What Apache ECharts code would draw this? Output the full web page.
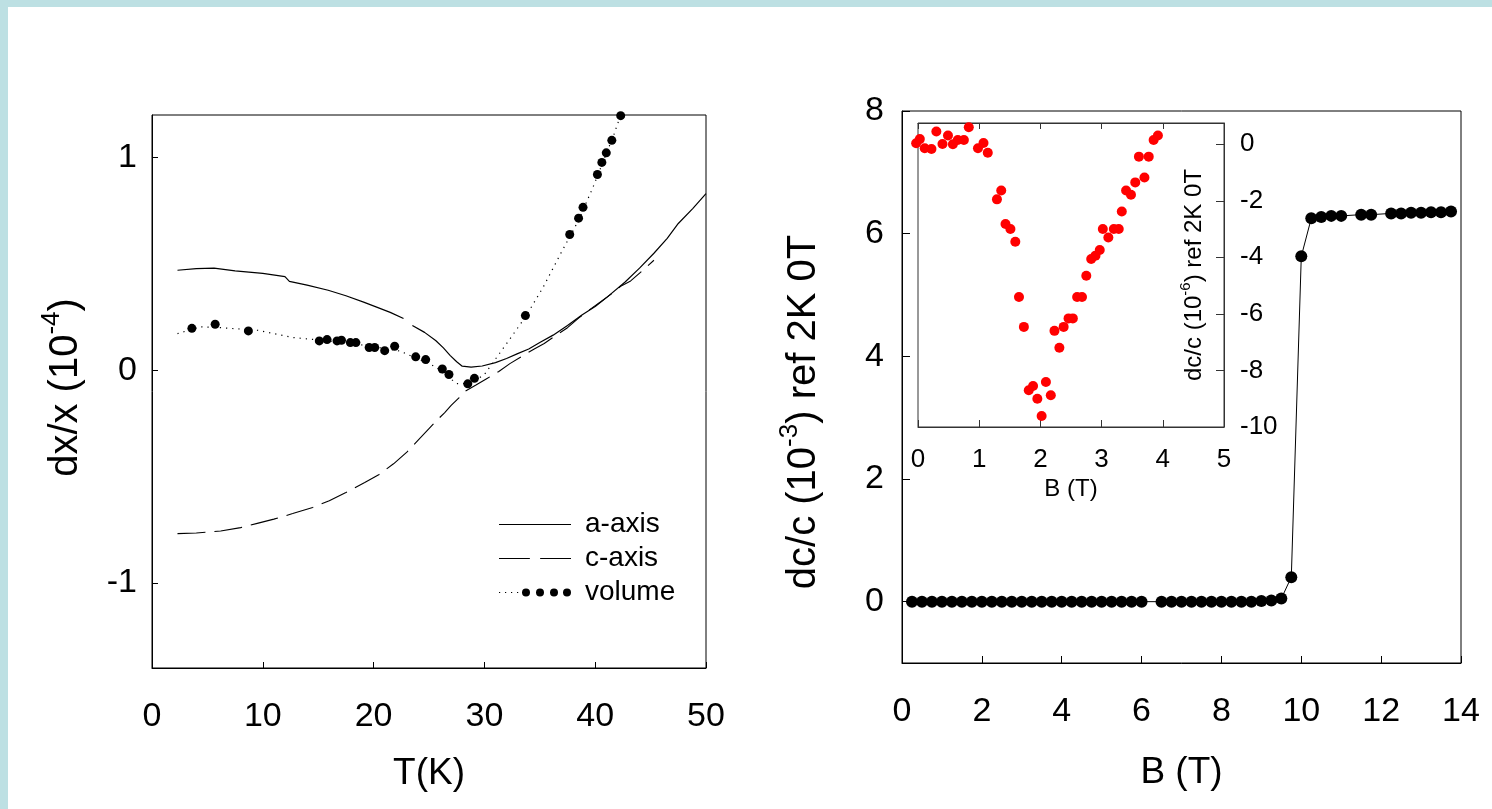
<!DOCTYPE html>
<html><head><meta charset="utf-8">
<script src="https://cdn.jsdelivr.net/npm/echarts@6/dist/echarts.min.js"></script>
<style>
html,body{margin:0;padding:0;background:#fff;}
#stripTop{position:absolute;left:0;top:0;width:1492px;height:7px;background:#bde0e3;}
#stripLeft{position:absolute;left:0;top:0;width:8px;height:809px;background:#bde0e3;}
#chart{position:absolute;left:0;top:0;width:1492px;height:809px;}
</style></head>
<body>
<div id="stripTop"></div><div id="stripLeft"></div>
<div id="chart"></div>
<script>
// ---------- Left panel: thermal expansion dx/x (1e-4) vs T(K) ----------
const aAxisT = [2.3, 4, 5.6, 7.5, 10, 12, 12.4, 14, 15.9, 17.5, 19.1, 20.1, 21.5, 22.7, 23.1, 23.5, 24.6, 25.6, 26.3, 26.9, 27.5, 28, 28.8, 29.8, 31, 32, 33, 34, 35, 36.2, 37.5, 38.8, 40, 41.1, 42.7, 44, 45.3, 46.5, 47.5, 48.8, 50];
const aAxisV = [0.47, 0.478, 0.48, 0.467, 0.455, 0.44, 0.418, 0.40, 0.376, 0.35, 0.32, 0.30, 0.272, 0.243, null, 0.21, 0.178, 0.14, 0.105, 0.07, 0.04, 0.019, 0.015, 0.02, 0.036, 0.055, 0.078, 0.10, 0.13, 0.165, 0.21, 0.26, 0.30, 0.345, 0.415, 0.48, 0.55, 0.62, 0.69, 0.76, 0.83];

const cAxisT = [2.3, 4, 6.2, 8, 9.5, 11, 12.7, 14.5, 16, 17.5, 19.2, 20.5, 21.8, 23, 24, 25, 25.7, 26.4, 27, 27.7, 28.3, 29.2, 30.2, 31.3, 32.3, 33.4, 34.5, 35.4, 36.5, 37.5, 38.5, 39.5, 40.5, 41.5, 42.3, 43.2, 44.2, 45.3];
const cAxisV = [-0.768, -0.765, -0.756, -0.74, -0.72, -0.70, -0.674, -0.645, -0.614, -0.575, -0.528, -0.49, -0.44, -0.385, -0.33, -0.275, -0.236, -0.20, -0.165, -0.13, -0.098, -0.071, -0.04, -0.006, 0.031, 0.066, 0.10, 0.126, 0.165, 0.20, 0.245, 0.285, 0.322, 0.36, 0.395, 0.42, 0.465, 0.517];

const volLineT = [2.3, 4.3, 6.2, 9.5, 12.7, 15.3, 19.1, 22.4, 25.6, 27.5, 28.8, 30, 32, 33.7, 35.3, 36.9, 38.5, 39.8, 41.7, 42.3];
const volLineV = [0.172, 0.204, 0.2, 0.188, 0.154, 0.141, 0.118, 0.09, 0.016, -0.063, -0.062, -0.02, 0.125, 0.25, 0.39, 0.55, 0.705, 0.86, 1.11, 1.2];

const volDotT = [3.6, 5.7, 8.7, 15.1, 15.8, 16.7, 17.1, 17.9, 18.4, 19.6, 20.1, 21.0, 21.9, 23.8, 24.7, 26.2, 26.8, 28.5, 29.1, 33.7, 37.7, 38.5, 38.9, 40.2, 40.6, 41.0, 41.5, 42.3];
const volDotV = [0.197, 0.216, 0.185, 0.138, 0.144, 0.138, 0.141, 0.13, 0.13, 0.107, 0.107, 0.092, 0.113, 0.063, 0.05, 0.006, -0.02, -0.064, -0.038, 0.257, 0.638, 0.715, 0.766, 0.92, 0.977, 1.022, 1.081, 1.197];

const leftXTicks = [0, 10, 20, 30, 40, 50];
const leftYTicks = [-1, 0, 1];

// ---------- Right panel: dc/c (1e-3) vs B (T) ----------
const fieldB = [0.25, 0.5, 0.75, 1.0, 1.25, 1.5, 1.75, 2.0, 2.25, 2.5, 2.75, 3.0, 3.25, 3.5, 3.75, 4.0, 4.25, 4.5, 4.75, 5.0, 5.25, 5.5, 5.75, 6.0,
                6.5, 6.75, 7.0, 7.25, 7.5, 7.75, 8.0, 8.25, 8.5, 8.75, 9.0, 9.25, 9.5,
                9.75, 10.0, 10.25, 10.5, 10.75, 11.0, 11.5, 11.75, 12.25, 12.5, 12.75, 13.0, 13.25, 13.5, 13.75];
const dcMain = [0, 0, 0, 0, 0, 0, 0, 0, 0, 0, 0, 0, 0, 0, 0, 0, 0, 0, 0, 0, 0, 0, 0, 0,
                0, 0, 0, 0, 0, 0, 0, 0, 0, 0, 0.01, 0.02, 0.05,
                0.40, 5.63, 6.25, 6.27, 6.29, 6.29, 6.31, 6.31, 6.33, 6.33, 6.34, 6.34, 6.35, 6.35, 6.36];
const rightYTicks = [0, 2, 4, 6, 8];

// ---------- Inset: dc/c (1e-6) vs B (T) ----------
const insetB = [-0.03, 0.03, 0.11, 0.22, 0.30, 0.40, 0.49, 0.57, 0.65, 0.75, 0.83, 0.98, 1.07, 1.14, 1.29, 1.36, 1.43, 1.51, 1.59, 1.65, 1.73, 1.81, 1.88, 1.95, 2.02, 2.09, 2.17, 2.23, 2.31, 2.38, 2.46, 2.53, 2.60, 2.68, 2.75, 2.83, 2.90, 2.97, 3.02, 3.11, 3.20, 3.28, 3.33, 3.40, 3.48, 3.55, 3.61, 3.70, 3.77, 3.85, 3.92];
const insetDc = [0.035, 0.18, -0.14, -0.17, 0.45, 0.01, 0.31, 0.0, 0.15, 0.15, 0.6, -0.14, 0.04, -0.3, -1.95, -1.64, -2.82, -3.0, -3.45, -5.4, -6.46, -8.7, -8.55, -9.0, -9.61, -8.41, -8.88, -6.6, -7.2, -6.46, -6.16, -6.16, -5.4, -5.4, -4.65, -4.06, -3.94, -3.74, -3.0, -3.3, -3.0, -3.0, -2.38, -1.64, -1.79, -1.35, -0.44, -1.18, -0.44, 0.15, 0.31];
const insetYTicks = [-10, -8, -6, -4, -2, 0];

const zip = (xs, ys) => xs.map((x, i) => [x, ys[i]]);

const FONT = '"Liberation Sans", Arial, Helvetica, sans-serif';
const BLACK = '#000';
const A_ICON = 'path://M0,0h72v1.2h-72z';
const C_ICON = 'path://M0,0h30v1.2h-30z M40,0h30v1.2h-30z';
const VOL_ICON = 'path://M0,3.4h1.2v1.2h-1.2z M6,3.4h1.2v1.2h-1.2z M12,3.4h1.2v1.2h-1.2z M18,3.4h1.2v1.2h-1.2z ' +
  'M23,4a4,4 0 1,0 8,0a4,4 0 1,0 -8,0z M37,4a4,4 0 1,0 8,0a4,4 0 1,0 -8,0z ' +
  'M51,4a4,4 0 1,0 8,0a4,4 0 1,0 -8,0z M64,4a4,4 0 1,0 8,0a4,4 0 1,0 -8,0z';

function richName(big, padding) {
  const o = {
    fontFamily: FONT, color: BLACK, fontSize: big,
    rich: {
      t: { fontFamily: FONT, color: BLACK, fontSize: big, lineHeight: Math.round(big * 1.18), verticalAlign: 'bottom' },
      s: { fontFamily: FONT, color: BLACK, fontSize: Math.round(big * 0.64), lineHeight: Math.round(big * 0.64), verticalAlign: 'top' }
    }
  };
  if (padding) o.padding = padding;
  return o;
}
const lineSt = (c) => ({ show: true, onZero: false, lineStyle: { color: c || BLACK, width: 1 } });
const tickSt = (len, vals, c) => {
  const o = { show: true, inside: true, length: len, lineStyle: { color: c || BLACK, width: 1 } };
  if (vals) o.customValues = vals;
  return o;
};
const labelSt = (size, margin, vals) => {
  const o = { fontFamily: FONT, fontSize: size, color: BLACK, margin: margin };
  if (vals) o.customValues = vals;
  return o;
};

const chart = echarts.init(document.getElementById('chart'), null, { renderer: 'canvas' });

chart.setOption({
  animation: false,
  backgroundColor: 'transparent',
  grid: [
    { left: 152, top: 115, width: 554, height: 553, show: true, borderColor: BLACK, borderWidth: 1, backgroundColor: 'transparent', containLabel: false },
    { left: 902, top: 111, width: 559, height: 552, show: true, borderColor: BLACK, borderWidth: 1, backgroundColor: 'transparent', containLabel: false },
    { left: 918, top: 123, width: 306, height: 304, show: true, borderColor: '#333', borderWidth: 1, backgroundColor: 'transparent', containLabel: false }
  ],
  xAxis: [
    { gridIndex: 0, type: 'value', position: 'bottom', min: leftXTicks[0], max: leftXTicks[leftXTicks.length - 1], interval: 10,
      axisLine: lineSt(), axisTick: tickSt(6), axisLabel: labelSt(34, 32), splitLine: { show: false },
      name: 'T(K)', nameLocation: 'middle', nameGap: 87, nameMoveOverlap: false, nameTextStyle: { fontFamily: FONT, fontSize: 37, color: BLACK } },
    { gridIndex: 1, type: 'value', position: 'bottom', min: 0, max: 14, interval: 2,
      axisLine: lineSt(), axisTick: tickSt(7), axisLabel: labelSt(34, 32), splitLine: { show: false },
      name: 'B (T)', nameLocation: 'middle', nameGap: 91, nameMoveOverlap: false, nameTextStyle: { fontFamily: FONT, fontSize: 37, color: BLACK } },
    { gridIndex: 2, type: 'value', position: 'bottom', min: 0, max: 5, interval: 1,
      axisLine: lineSt('#333'), axisTick: tickSt(7, null, '#333'), axisLabel: labelSt(26, 20), splitLine: { show: false },
      name: 'B (T)', nameLocation: 'middle', nameGap: 50, nameMoveOverlap: false, nameTextStyle: { fontFamily: FONT, fontSize: 24, color: BLACK } },
    { gridIndex: 2, type: 'value', position: 'top', min: 0, max: 5, interval: 1,
      axisLine: lineSt('#333'), axisTick: tickSt(6, null, '#333'), axisLabel: { show: false }, splitLine: { show: false } }
  ],
  yAxis: [
    { gridIndex: 0, type: 'value', position: 'left', min: -1.4, max: 1.2,
      axisLine: lineSt(), axisTick: tickSt(6, leftYTicks), axisLabel: labelSt(34, 15, leftYTicks), splitLine: { show: false },
      name: '{t|dx/x (10}{s|-4}{t|)}', nameLocation: 'middle', nameGap: 66, nameMoveOverlap: false, nameTextStyle: richName(40, [0, 0, 0, 8]) },
    { gridIndex: 1, type: 'value', position: 'left', min: -1, max: 8,
      axisLine: lineSt(), axisTick: tickSt(8, rightYTicks), axisLabel: labelSt(34, 18, rightYTicks), splitLine: { show: false },
      name: '{t|dc/c (10}{s|-3}{t|) ref 2K 0T}', nameLocation: 'middle', nameGap: 78, nameMoveOverlap: false, nameTextStyle: richName(40, [0, 50, 0, 0]) },
    { gridIndex: 2, type: 'value', position: 'right', min: -10, max: 0.75,
      axisLine: lineSt('#333'), axisTick: tickSt(8, insetYTicks, '#333'), axisLabel: labelSt(26, 16, insetYTicks), splitLine: { show: false },
      name: '{t|dc/c (10}{s|-6}{t|) ref 2K 0T}', nameLocation: 'middle', nameGap: -46, nameMoveOverlap: false, nameTextStyle: richName(24) }
  ],
  legend: {
    orient: 'vertical', left: 494, top: 504, itemWidth: 72, itemHeight: 8, itemGap: 3,
    selectedMode: false, symbolKeepAspect: true,
    textStyle: { fontFamily: FONT, fontSize: 28, color: BLACK, lineHeight: 31, padding: [0, 0, 0, 9] },
    data: [{ name: 'a-axis', icon: A_ICON }, { name: 'c-axis', icon: C_ICON }, { name: 'volume', icon: VOL_ICON }]
  },
  series: [
    { name: 'a-axis', type: 'line', xAxisIndex: 0, yAxisIndex: 0, data: zip(aAxisT, aAxisV),
      symbol: 'none', connectNulls: false, lineStyle: { color: BLACK, width: 1.2, type: 'solid' }, itemStyle: { color: BLACK } },
    { name: 'c-axis', type: 'line', xAxisIndex: 0, yAxisIndex: 0, data: zip(cAxisT, cAxisV),
      symbol: 'none', lineStyle: { color: BLACK, width: 1.1, type: [28, 9] }, itemStyle: { color: BLACK } },
    { name: 'volume', type: 'line', xAxisIndex: 0, yAxisIndex: 0, data: zip(volLineT, volLineV),
      symbol: 'none', lineStyle: { color: BLACK, width: 1.2, type: [1.2, 5] }, itemStyle: { color: BLACK } },
    { name: 'volume', type: 'scatter', xAxisIndex: 0, yAxisIndex: 0, data: zip(volDotT, volDotV),
      symbol: 'circle', symbolSize: 9, itemStyle: { color: BLACK, opacity: 1 }, clip: false },
    { name: 'field', type: 'line', xAxisIndex: 1, yAxisIndex: 1, data: zip(fieldB, dcMain),
      symbol: 'circle', symbolSize: 12, showSymbol: true, lineStyle: { color: BLACK, width: 1 }, itemStyle: { color: BLACK, opacity: 1 }, clip: false },
    { name: 'inset', type: 'scatter', xAxisIndex: 2, yAxisIndex: 2, data: zip(insetB, insetDc),
      symbol: 'circle', symbolSize: 10, itemStyle: { color: '#ff0000', opacity: 1 }, clip: false }
  ]
});
</script>
</body></html>
